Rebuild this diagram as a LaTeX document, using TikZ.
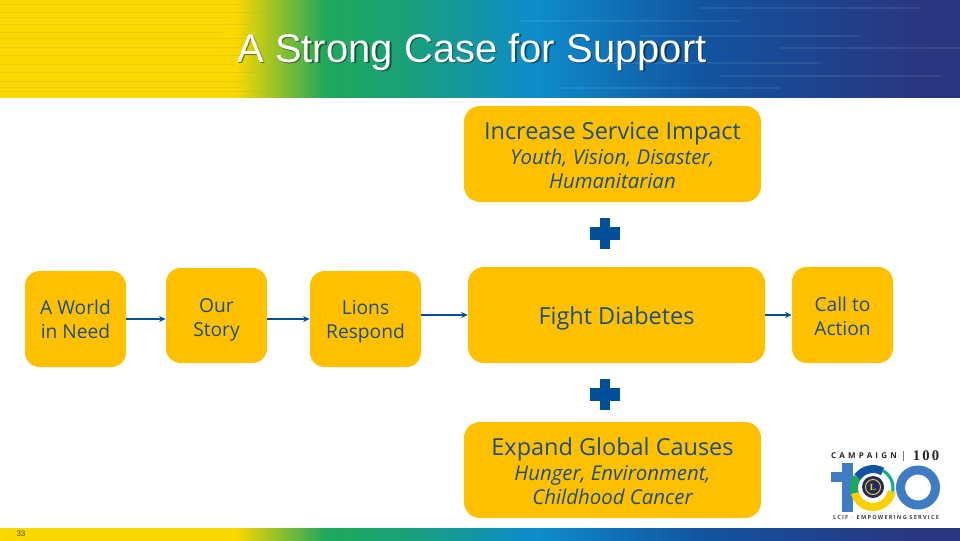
\documentclass[tikz,border=0pt]{standalone}
\usepackage{fontspec}
\setmainfont{Open Sans}
\newfontfamily\titlefont{Liberation Sans}
\newfontfamily\logofont{Liberation Serif}
\usepackage{xcolor}
\usetikzlibrary{arrows.meta, positioning, calc}
\definecolor{boxyellow}{HTML}{FFC000}
\definecolor{inkblue}{HTML}{1F4E79}
\definecolor{plusblue}{HTML}{004F98}
\definecolor{bandyellow}{HTML}{FBD900}
\definecolor{bandgreen}{HTML}{1FA85A}
\definecolor{bandcyan}{HTML}{0D8CCB}
\definecolor{bandblue}{HTML}{12539F}
\definecolor{bandnavy}{HTML}{2A357F}
\definecolor{logoblue}{HTML}{3F7CC4}
\newcommand{\pxu}{0.75pt}
\newcommand{\bandstrip}[2]{%
  \shade[left color=bandyellow, right color=bandyellow] (0,#1) rectangle (235,#2);
  \shade[left color=bandyellow, right color=bandgreen] (235,#1) rectangle (325,#2);
  \shade[left color=bandgreen, right color=bandgreen!70!bandcyan] (325,#1) rectangle (410,#2);
  \shade[left color=bandgreen!70!bandcyan, right color=bandcyan] (410,#1) rectangle (535,#2);
  \shade[left color=bandcyan, right color=bandblue] (535,#1) rectangle (705,#2);
  \shade[left color=bandblue, right color=bandnavy] (705,#1) rectangle (925,#2);
  \shade[left color=bandnavy, right color=bandnavy] (925,#1) rectangle (960,#2);
}
\begin{document}
\begin{tikzpicture}[
  x=\pxu, y=-\pxu,
  >={Stealth[length=5pt,width=4.5pt]},
  stage/.style={fill=boxyellow, rounded corners=11pt, align=center, text=inkblue,
                inner sep=0pt, minimum width=#1*\pxu, minimum height=96*\pxu,
                font=\fontsize{14.4}{18}\selectfont},
  stage/.default=101,
  wide/.style={stage=297, rounded corners=12pt},
  headline/.style={font=\fontsize{17.6}{20}\selectfont},
  subline/.style={font=\fontsize{15.3}{18}\selectfont\itshape},
  dropped/.style={text depth=0pt, text height=#1},
  flow/.style={->, draw=plusblue, thick},
  plusbar/.style={fill=plusblue},
  logoring/.style={line width=8*\pxu},
  titletext/.style={font=\titlefont\fontsize{30}{36}\selectfont},
]
  \useasboundingbox (0,0) rectangle (960,540);

  % --- banner and foot strip ---------------------------------------
  \bandstrip{0}{97}
  \bandstrip{528}{540}
  \foreach \yy/\xx in {4/240,12/265,17/230,24/250,32/225,38/255,47/240,55/270,64/235,72/255,81/245,87/240,91/270}
    \draw[yellow!60!black, opacity=0.22, line width=0.7pt] (0,\yy) -- (\xx,\yy);
  \foreach \yy/\xx in {8/700,21/520,36/640,48/780,63/600,76/720,88/560}
    \draw[white, opacity=0.08, line width=0.8pt] (\xx,\yy) -- (\xx+220,\yy);

  \node[titletext, text=black, opacity=0.45] (titleshade) at (473.5,53.5) {A Strong Case for Support};
  \node[titletext, text=white] (title) at (472,52) {A Strong Case for Support};
  \node[text=black!70, font=\titlefont\fontsize{6}{7}\selectfont] (page) at (21,533.5) {33};

  % --- stages --------------------------------------------------------
  \node[stage] (need) at (75.5,319) {A World\\in Need};
  \node[stage, minimum height=95*\pxu, dropped=31pt] (story) at (216.5,315.5) {Our\\Story};
  \node[stage=111, dropped=28.5pt] (lions) at (365.5,319) {Lions\\Respond};
  \node[wide, headline, dropped=13.7pt] (diabetes) at (616.5,315) {Fight Diabetes};
  \node[stage, dropped=30.5pt] (call) at (842.5,315) {Call to\\Action};

  \node[wide, subline, dropped=52.4pt] (impact) at (612.5,154)
    {{\upshape\fontsize{17.6}{20}\selectfont Increase Service Impact}\\[1pt]Youth, Vision, Disaster,\\Humanitarian};
  \node[wide, subline, dropped=52.4pt] (causes) at (612.5,470)
    {{\upshape\fontsize{17.6}{20}\selectfont Expand Global Causes}\\[1pt]Hunger, Environment,\\Childhood Cancer};

  \draw[flow] (need.east) -- (need.east -| story.west);
  \draw[flow] (story.east |- lions.west) -- (lions.west);
  \draw[flow] (lions.east |- diabetes.west) -- (diabetes.west);
  \draw[flow] (diabetes.east) -- (call.west);

  % --- plus signs ----------------------------------------------------
  \foreach \yy in {233,394} {
    \fill[plusbar] (590,\yy-6.5) rectangle (620,\yy+6.5);
    \fill[plusbar] (600,\yy-15.5) rectangle (610,\yy+15.5);
  }

  % --- logo ----------------------------------------------------------
  \node[text=black!85, font=\bfseries\fontsize{6}{7}\selectfont\addfontfeature{LetterSpace=40}] (logotop) at (864,456) {CAMPAIGN};
  \fill[black!50] (903,451) rectangle (903.5,461);
  \node[text=black!85, font=\logofont\bfseries\fontsize{11}{12}\selectfont\addfontfeature{LetterSpace=15}] (logonum) at (926,456) {100};
  \fill[logoblue] (842,463) rectangle (853,512);
  \fill[logoblue] (831,472) rectangle (842,482);
  \draw[logoblue, line width=9*\pxu] (918,487.5) circle (17.5);
  \draw[bandyellow!90!orange, logoring] (873,488) ++(10:19) arc (10:165:19);
  \draw[bandgreen, logoring] (873,488) ++(165:19) arc (165:215:19);
  \draw[bandblue, logoring] (873,488) ++(215:19) arc (215:300:19);
  \draw[bandcyan!70!green, line width=3*\pxu] (873,488) ++(300:20) arc (300:370:20);
  \fill[bandnavy!80!black] (873,487) circle (11);
  \draw[bandyellow, line width=0.7pt] (873,487) circle (7.5);
  \node[text=bandyellow, font=\logofont\bfseries\fontsize{7}{8}\selectfont] (logol) at (873,487) {L};
  \node[text=black!75, font=\bfseries\fontsize{4.2}{5}\selectfont\addfontfeature{LetterSpace=22}] (logofoot) at (886,517) {LCIF $\cdot$ EMPOWERING SERVICE};
\end{tikzpicture}
\end{document}
